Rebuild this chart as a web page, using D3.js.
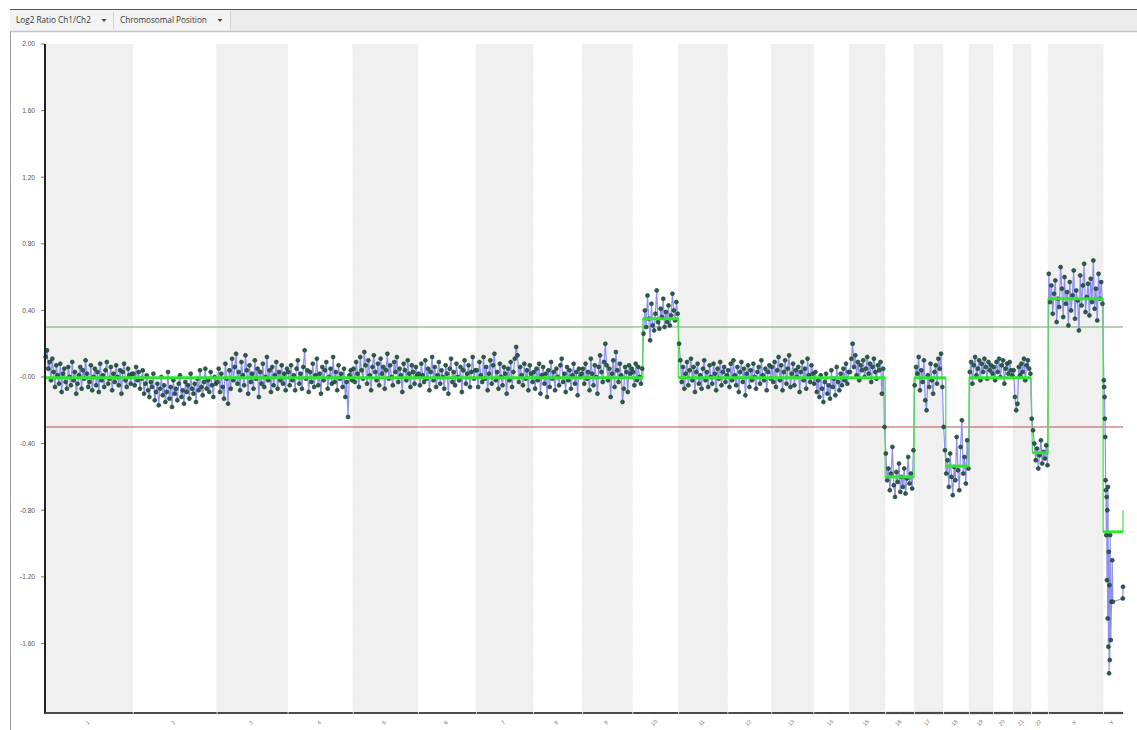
<!DOCTYPE html>
<html>
<head>
<meta charset="utf-8">
<script src="https://cdn.jsdelivr.net/npm/d3@7"></script>
<style>
  html, body { margin: 0; padding: 0; background: #fff; }
  svg { display: block; }
</style>
</head>
<body>
<svg id="chart" width="1137" height="730"></svg>
<script>
// Chromosomes and their lengths (Mb) along the genome axis
const chromosomes = ["1","2","3","4","5","6","7","8","9","10","11","12","13","14","15","16","17","18","19","20","21","22","X","Y"];
const chromLengths = [252,241,204,187,187,167,164,141,144,132,141,126,121,103,103,83,83,75,69,57,52,49,158,57];

// Y axis tick labels
const yTicks = [2.0, 1.6, 1.2, 0.8, 0.4, 0.0, -0.4, -0.8, -1.2, -1.6];
const yTickLabels = ["2.00","1.60","1.20","0.80","0.40","-0.00","-0.40","-0.80","-1.20","-1.60"];

// Gain / loss thresholds
const gainThreshold = 0.3;
const lossThreshold = -0.3;

// Log2 ratio probe values per chromosome (probes evenly spaced along each chromosome)
const log2Ratios = {
  "1": [0.12,0.16,0.05,0.09,-0.02,0.11,0.03,-0.06,0.07,0.01,-0.04,0.08,-0.09,0.02,0.05,-0.03,-0.07,0.06,0.00,-0.05,0.09,-0.02,0.03,-0.10,-0.04,0.01,0.06,-0.07,0.04,-0.01,0.10,0.02,-0.06,-0.03,0.07,-0.08,0.00,0.05,-0.05,0.03,-0.09,0.08,-0.02,0.01,-0.06,0.04,0.09,-0.04,-0.01,0.06,-0.08,0.02,-0.03,0.07,0.00,-0.05,0.04,-0.10,0.03,0.08,-0.02,-0.06,0.05,0.01,-0.04,0.02],
  "2": [0.02,-0.05,0.06,-0.02,0.03,-0.07,-0.01,0.04,-0.10,-0.04,0.01,-0.08,-0.12,-0.03,-0.06,0.02,-0.14,-0.09,-0.04,-0.17,-0.07,0.00,-0.11,-0.05,-0.15,-0.09,0.03,-0.13,-0.06,-0.18,-0.02,-0.10,-0.07,-0.14,-0.04,0.01,-0.12,-0.08,-0.16,-0.03,-0.09,-0.05,-0.13,0.02,-0.07,-0.10,-0.04,-0.15,-0.01,-0.08,0.04,-0.06,-0.11,-0.03,0.05,-0.07,-0.02,-0.09,0.03,-0.05,-0.12,0.00,-0.04],
  "3": [-0.03,0.05,-0.09,0.02,-0.06,-0.13,0.08,-0.01,-0.16,0.04,-0.07,0.11,-0.02,0.06,0.14,-0.04,0.03,-0.08,0.09,0.01,-0.05,0.13,0.04,-0.10,0.07,-0.03,0.02,-0.07,0.10,-0.01,0.05,-0.12,0.03,-0.04,0.08,-0.06,0.00,0.12,-0.02,0.04,-0.09,0.06,-0.05,0.01,0.09,-0.07,0.03,-0.02,0.07,-0.04,0.02,-0.08,0.05],
  "4": [0.03,-0.05,0.07,-0.02,0.01,-0.08,0.05,0.10,-0.04,0.02,-0.07,0.06,0.16,-0.01,0.04,-0.09,0.03,-0.03,0.08,-0.06,0.01,0.11,-0.05,0.02,-0.10,0.06,-0.02,0.04,0.09,-0.07,0.00,0.05,-0.04,0.12,-0.03,0.03,-0.08,0.07,-0.01,0.02,-0.06,0.05,-0.12,-0.03,-0.24,0.01,0.04,-0.02],
  "5": [0.05,-0.03,0.09,0.02,-0.06,0.12,0.04,-0.01,0.15,0.07,-0.04,0.10,0.01,-0.08,0.06,0.13,0.03,-0.02,0.08,-0.05,0.11,0.02,0.06,-0.07,0.04,0.14,-0.01,0.07,0.00,-0.05,0.09,0.03,0.12,-0.03,0.05,0.01,-0.09,0.08,0.04,-0.02,0.10,0.02,-0.06,0.07,0.03,-0.04,0.06,0.01],
  "6": [0.02,-0.05,0.08,0.01,-0.03,0.10,-0.01,0.05,-0.08,0.03,0.12,-0.02,0.06,-0.06,0.01,0.09,-0.04,0.04,0.00,-0.07,0.07,0.02,-0.10,0.05,0.11,-0.03,0.03,-0.05,0.08,0.00,-0.02,0.06,-0.09,0.04,0.10,-0.04,0.02,0.07,-0.06,0.03,0.12,-0.01,0.04],
  "7": [0.04,-0.06,0.09,0.01,-0.03,0.12,-0.01,0.06,-0.08,0.02,0.10,-0.04,0.07,0.14,-0.02,0.03,-0.07,0.08,0.00,-0.05,0.06,0.02,-0.10,0.05,-0.02,0.09,-0.06,0.03,0.11,0.18,0.13,-0.03,0.06,0.01,-0.05,0.08,-0.01,0.04,-0.08,0.07,0.02,-0.03],
  "8": [0.03,-0.07,0.05,-0.02,0.08,-0.10,0.01,0.06,-0.04,0.02,-0.12,0.04,-0.06,0.09,-0.01,0.03,-0.08,0.05,0.00,-0.05,0.07,0.11,-0.03,0.02,-0.09,0.06,-0.02,0.04,-0.07,0.01,0.08,-0.04,0.03,-0.11,0.05,0.00,0.02],
  "9": [0.05,-0.04,0.08,-0.01,0.03,-0.08,0.11,0.02,-0.05,0.07,0.00,-0.10,0.06,0.13,0.03,-0.03,0.09,0.20,0.07,-0.02,0.05,-0.12,0.02,0.10,-0.06,0.15,0.04,-0.03,0.08,0.01,-0.15,-0.07,0.06,0.03,-0.09,0.07,0.02,0.05],
  "10": [0.03,-0.05,0.08,-0.02,0.06,0.00,-0.04,0.05,0.26,0.40,0.30,0.49,0.35,0.22,0.44,0.31,0.28,0.38,0.52,0.33,0.29,0.41,0.36,0.47,0.30,0.39,0.33,0.43,0.31,0.37,0.50,0.40,0.34,0.45,0.38],
  "11": [0.20,0.10,-0.03,0.06,-0.07,0.02,0.09,-0.05,0.04,0.11,-0.02,0.06,-0.09,0.03,0.08,-0.04,0.01,-0.07,0.05,0.10,-0.02,0.03,-0.06,0.07,0.00,-0.04,0.08,0.02,-0.08,0.05,-0.01,0.09,-0.05,0.03,0.06,-0.03,0.01],
  "12": [0.04,-0.06,0.08,-0.02,0.10,0.01,-0.05,0.06,-0.09,0.03,0.09,-0.03,0.05,-0.11,0.02,0.07,-0.06,0.04,-0.02,0.08,0.00,-0.07,0.03,0.06,-0.04,0.10,0.01,-0.02,0.05,-0.08,0.03,0.07,-0.01],
  "13": [0.06,-0.03,0.09,-0.06,0.04,0.12,-0.02,0.07,-0.08,0.03,0.10,-0.04,0.05,0.13,-0.06,0.02,0.08,-0.05,0.04,0.00,0.06,-0.09,0.03,0.09,-0.02,0.05,-0.07,0.11,0.01,-0.03,0.07,0.02],
  "14": [-0.04,0.03,-0.09,-0.02,-0.12,0.01,-0.07,-0.15,-0.03,0.02,-0.10,-0.05,-0.13,0.04,-0.06,-0.01,-0.11,0.06,-0.03,-0.08,0.02,-0.05,0.05,-0.02,0.08,-0.04,0.03],
  "15": [0.03,0.11,0.20,0.06,0.13,0.01,0.09,-0.02,0.07,0.04,0.10,0.00,0.05,0.12,0.02,0.08,-0.03,0.06,0.11,0.03,-0.01,0.07,0.04,0.09,-0.10,0.05,-0.30],
  "16": [-0.46,-0.62,-0.55,-0.68,-0.58,-0.42,-0.65,-0.72,-0.57,-0.63,-0.52,-0.69,-0.60,-0.66,-0.55,-0.70,-0.61,-0.48,-0.64,-0.58,-0.67,-0.44],
  "17": [-0.05,0.06,0.02,0.12,-0.08,0.04,-0.03,0.10,-0.14,-0.20,0.01,-0.06,0.08,-0.02,-0.10,0.03,0.07,-0.04,0.11,0.05,0.14,-0.06],
  "18": [-0.30,-0.44,-0.58,-0.50,-0.66,-0.46,-0.60,-0.71,-0.54,-0.62,-0.36,-0.56,-0.68,-0.42,-0.26,-0.58,-0.48,-0.64,-0.38,-0.55],
  "19": [0.03,0.09,-0.04,0.07,0.12,0.01,0.05,0.10,-0.02,0.08,0.03,0.11,0.06,-0.01,0.09,0.04,0.07,0.02],
  "20": [0.06,-0.02,0.09,0.03,0.11,0.00,0.07,0.10,-0.04,0.05,0.08,0.02,0.09,0.04,0.01],
  "21": [0.04,-0.12,-0.20,-0.16,0.06,0.01,0.08,0.03,0.11,-0.02,0.07,0.10,0.05,0.02],
  "22": [-0.25,-0.32,-0.40,-0.50,-0.43,-0.55,-0.47,-0.38,-0.52,-0.45,-0.49,-0.41,-0.53],
  "X": [0.62,0.45,0.55,0.38,0.50,0.58,0.33,0.47,0.42,0.66,0.53,0.36,0.60,0.44,0.51,0.31,0.57,0.40,0.49,0.64,0.35,0.52,0.46,0.28,0.61,0.43,0.55,0.68,0.39,0.48,0.56,0.37,0.59,0.45,0.70,0.41,0.53,0.34,0.62,0.47,0.57,0.44],
  "Y": [-0.02,-0.06,-0.12,-0.25,-0.36,-0.62,-0.68,-0.95,-0.72,-1.22,-0.80,-1.45,-0.66,-1.62,-1.05,-1.78,-1.25,-1.70,-0.95,-1.58,-1.35,-1.10,-1.35,-1.33,-1.26]
};
// Chromosome Y probes are clustered, so their positions (Mb) are listed
const chrYPositions = [2,3,4,5,6,7,8,9,10,11,12,13,14,15,16,17,18,19,20,22,24,26,28,56.5,57];

// Segmentation calls: start chromosome/Mb, end chromosome/Mb, mean log2 ratio
const segStartChr = ["1","10","11","16","17","18","19","22","X","Y","Y"];
const segStartMb  = [0, 30, 0, 0, 0, 8, 0, 4, 0, 0, 57];
const segEndChr   = ["10","10","15","16","18","18","21","22","X","Y","Y"];
const segEndMb    = [30, 132, 103, 83, 8, 75, 52, 49, 158, 57, 57];
const segMean     = [-0.005, 0.35, -0.005, -0.60, -0.005, -0.535, -0.005, -0.455, 0.47, -0.93, -0.80];

// ---------- layout ----------
const svg = d3.select("#chart");
const W = 1137, H = 730;
const plot = { left: 45, right: 1123, top: 44, bottom: 713 };

// cumulative chromosome offsets
const offsets = {};
let acc = 0;
chromosomes.forEach((c, i) => { offsets[c] = acc; acc += chromLengths[i]; });
const genomeLength = acc;

const x = d3.scaleLinear().domain([0, genomeLength]).range([plot.left, plot.right]);
const y = d3.scaleLinear().domain([-2.018, 2.0]).range([plot.bottom, plot.top]);
const gx = (chr, mb) => x(offsets[chr] + mb);

// ---------- toolbar ----------
const bar = svg.append("g");
bar.append("rect").attr("x", 10).attr("y", 9).attr("width", W - 10).attr("height", 22)
  .attr("fill", "#ececec");
bar.append("rect").attr("x", 10).attr("y", 9).attr("width", 220).attr("height", 22)
  .attr("fill", "#f3f3f3");
bar.append("line").attr("x1", 10).attr("x2", W).attr("y1", 9.5).attr("y2", 9.5)
  .attr("stroke", "#555").attr("stroke-width", 1);
bar.append("line").attr("x1", 10).attr("x2", W).attr("y1", 31.5).attr("y2", 31.5)
  .attr("stroke", "#c4c4c4").attr("stroke-width", 1.5);
bar.append("line").attr("x1", 113.5).attr("x2", 113.5).attr("y1", 12).attr("y2", 29)
  .attr("stroke", "#d4d4d4");
bar.append("line").attr("x1", 230.5).attr("x2", 230.5).attr("y1", 12).attr("y2", 29)
  .attr("stroke", "#d4d4d4");
const toolbarItems = [
  { text: "Log2 Ratio Ch1/Ch2", x: 16, arrow: 104 },
  { text: "Chromosomal Position", x: 120, arrow: 220 }
];
toolbarItems.forEach(t => {
  bar.append("text").attr("x", t.x).attr("y", 23).text(t.text)
    .attr("font-family", "'Open Sans', 'Liberation Sans', sans-serif")
    .attr("font-size", 8.2).attr("fill", "#333");
  bar.append("path")
    .attr("d", `M${t.arrow - 2.5},19 L${t.arrow + 2.5},19 L${t.arrow},22 Z`)
    .attr("fill", "#444");
});

// outer frame (left edge)
svg.append("line").attr("x1", 10.5).attr("x2", 10.5).attr("y1", 31).attr("y2", H)
  .attr("stroke", "#9a9a9a").attr("stroke-width", 1);

// ---------- alternating chromosome bands ----------
const bands = svg.append("g");
chromosomes.forEach((c, i) => {
  const x0 = gx(c, 0), x1 = gx(c, chromLengths[i]);
  if (i % 2 === 0) {
    bands.append("rect").attr("x", x0).attr("y", plot.top)
      .attr("width", x1 - x0).attr("height", plot.bottom - plot.top)
      .attr("fill", "#f0f0f0");
  }
  if (i > 0) {
    bands.append("line").attr("x1", x0).attr("x2", x0)
      .attr("y1", plot.top).attr("y2", plot.bottom)
      .attr("stroke", "#e4e4e4").attr("stroke-width", 0.8)
      .attr("stroke-dasharray", "1,2");
  }
});

// ---------- threshold lines ----------
svg.append("line").attr("x1", plot.left).attr("x2", plot.right)
  .attr("y1", y(gainThreshold)).attr("y2", y(gainThreshold))
  .attr("stroke", "#6ea86a").attr("stroke-width", 1.1);
svg.append("line").attr("x1", plot.left).attr("x2", plot.right)
  .attr("y1", y(lossThreshold)).attr("y2", y(lossThreshold))
  .attr("stroke", "#c0524e").attr("stroke-width", 1.1);

// ---------- probe data ----------
const probes = [];
chromosomes.forEach((c, i) => {
  const vals = log2Ratios[c];
  vals.forEach((v, j) => {
    const mb = c === "Y" ? chrYPositions[j] : (j + 0.5) / vals.length * chromLengths[i];
    probes.push({ chr: c, pos: offsets[c] + mb, v });
  });
});

const line = d3.line().x(d => x(d.pos)).y(d => y(d.v));
svg.append("path").datum(probes).attr("d", line)
  .attr("fill", "none").attr("stroke", "#8a8aee").attr("stroke-width", 1.2)
  .attr("stroke-opacity", 0.95);

// ---------- segmentation step line ----------
const segs = segMean.map((m, i) => ({
  x0: gx(segStartChr[i], segStartMb[i]),
  x1: gx(segEndChr[i], segEndMb[i]),
  m
}));
const stepPts = [];
segs.forEach(s => { stepPts.push([s.x0, y(s.m)]); stepPts.push([s.x1, y(s.m)]); });
svg.append("path").attr("d", d3.line()(stepPts))
  .attr("fill", "none").attr("stroke", "#55dd55").attr("stroke-width", 1.3);

svg.append("g").selectAll("circle").data(probes).join("circle")
  .attr("cx", d => x(d.pos)).attr("cy", d => y(d.v)).attr("r", 2)
  .attr("fill", "#2a5c4a").attr("stroke", "#183a2d").attr("stroke-width", 0.6);

svg.append("g").selectAll("line").data(segs.filter(s => s.x1 > s.x0)).join("line")
  .attr("x1", d => d.x0).attr("x2", d => d.x1)
  .attr("y1", d => y(d.m)).attr("y2", d => y(d.m))
  .attr("stroke", "#2ee62e").attr("stroke-width", 3);

// ---------- axes ----------
const yAxis = svg.append("g");
yTicks.forEach((t, i) => {
  yAxis.append("line").attr("x1", plot.left - 4).attr("x2", plot.left)
    .attr("y1", y(t)).attr("y2", y(t)).attr("stroke", "#777").attr("stroke-width", 1);
  yAxis.append("text").attr("x", 35).attr("y", y(t) + 2.3)
    .attr("text-anchor", "end").text(yTickLabels[i])
    .attr("font-family", "'Liberation Sans', Arial, sans-serif")
    .attr("font-size", 6.6).attr("fill", "#555");
});
svg.append("line").attr("x1", plot.left).attr("x2", plot.left)
  .attr("y1", plot.top).attr("y2", plot.bottom + 1)
  .attr("stroke", "#222").attr("stroke-width", 2);

// bottom axis: one segment per chromosome
const xAxis = svg.append("g");
chromosomes.forEach((c, i) => {
  const x0 = gx(c, 0), x1 = gx(c, chromLengths[i]);
  xAxis.append("line").attr("x1", x0 + (i ? 0.8 : 0)).attr("x2", x1)
    .attr("y1", plot.bottom).attr("y2", plot.bottom)
    .attr("stroke", "#4a4a4a").attr("stroke-width", 2.2);
  const cx = (x0 + x1) / 2;
  xAxis.append("text").attr("transform", `translate(${cx},${plot.bottom + 11}) rotate(-45)`)
    .attr("text-anchor", "middle").text(c)
    .attr("font-family", "'Liberation Sans', Arial, sans-serif")
    .attr("font-size", 5.6).attr("fill", "#777");
});
</script>
</body>
</html>
